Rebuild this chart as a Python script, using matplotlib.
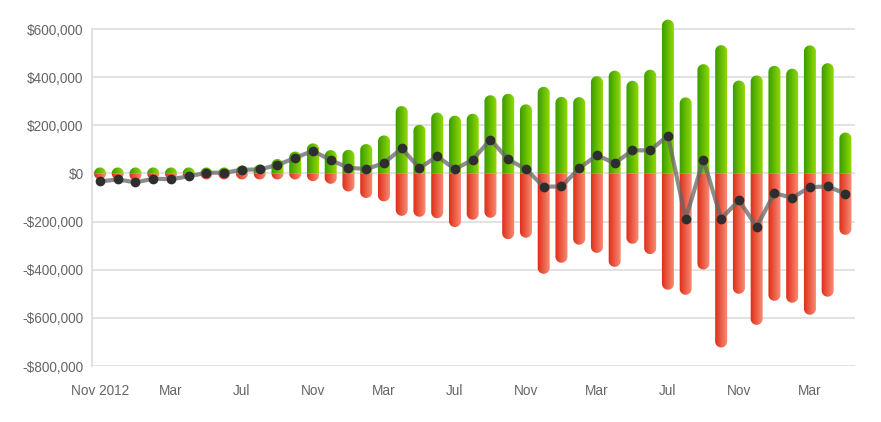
import numpy as np
import pandas as pd
import matplotlib
matplotlib.use("Agg")
import matplotlib.pyplot as plt
from matplotlib.path import Path
from matplotlib.patches import PathPatch
from matplotlib.ticker import FuncFormatter
from matplotlib.colors import to_rgb

plt.rcParams['font.family'] = ['Liberation Sans', 'DejaVu Sans']

# monthly figures in thousands of dollars, Nov 2012 .. May 2016
months = pd.date_range('2012-11-01', periods=43, freq='MS')
income = [24, 24, 24, 24, 24, 24, 24, 24, 33, 37, 60, 91, 125, 97, 98, 122, 158,
          280, 202, 253, 240, 248, 325, 331, 287, 360, 318, 317, 404, 427, 385,
          431, 639, 316, 454, 533, 386, 407, 447, 435, 532, 458, 170]
expenses = [-25, -25, -30, -25, -25, -25, -25, -25, -25, -25, -25, -25, -32, -43,
            -75, -102, -116, -176, -180, -186, -223, -192, -184, -273, -267, -417,
            -371, -296, -330, -388, -292, -335, -483, -504, -399, -723, -500, -629,
            -529, -537, -587, -512, -255]
net = [-33, -25, -37, -22, -24, -12, 3, 3, 15, 17, 35, 65, 94, 55, 24, 18, 43,
       104, 22, 71, 18, 57, 141, 58, 18, -55, -54, 21, 76, 42, 96, 96, 157, -188,
       57, -188, -112, -221, -82, -101, -57, -54, -84]
yticks = [600, 400, 200, 0, -200, -400, -600, -800]

income = np.array(income) * 1000
expenses = np.array(expenses) * 1000
net = np.array(net) * 1000
x = np.arange(len(months))
xlabels = [('Nov 2012' if i == 0 else m.strftime('%b')) for i, m in enumerate(months)]

W, H = 881, 422
fig = plt.figure(figsize=(W / 100, H / 100), dpi=100)
left, right, bottom, top = 92, 855, 366, 17
ax = fig.add_axes([left / W, 1 - bottom / H, (right - left) / W, (bottom - top) / H])
xlim = (-0.45, 42.54)
ylim = (-800000, 650000)
ax.set_xlim(xlim)
ax.set_ylim(ylim)

px_x = (right - left) / (xlim[1] - xlim[0])
px_y = (bottom - top) / (ylim[1] - ylim[0])
rx = 6.0 / px_x
ry = 6.0 / px_y


def bar_path(xc, v):
    s = 1 if v >= 0 else -1
    h = max(abs(v), ry)
    th = np.linspace(np.pi, 0, 24)
    pts = [(xc - rx, 0), (xc - rx, s * (h - ry))]
    pts += [(xc + rx * np.cos(t), s * (h - ry + ry * np.sin(t))) for t in th]
    pts += [(xc + rx, 0), (xc - rx, 0)]
    return Path(pts, closed=True)


def gradient_image(c_left, c_right):
    n = 4000
    xs = np.linspace(xlim[0], xlim[1], n)
    ph = xs - np.round(xs)
    t = np.clip((ph + rx) / (2 * rx), 0, 1)[None, :, None]
    a, b = np.array(to_rgb(c_left)), np.array(to_rgb(c_right))
    return np.repeat(a + (b - a) * t, 2, axis=0)


for vals, cl, cr in [(income, '#3a9c00', '#90da04'), (expenses, '#de2e17', '#f98b74')]:
    comp = Path.make_compound_path(*[bar_path(xi, v) for xi, v in zip(x, vals)])
    patch = PathPatch(comp, transform=ax.transData, facecolor='none', edgecolor='none')
    im = ax.imshow(gradient_image(cl, cr), extent=[xlim[0], xlim[1], ylim[0], ylim[1]],
                   aspect='auto', origin='lower', interpolation='bilinear', zorder=2)
    im.set_clip_path(patch)

ax.plot(x, net, color='#666666', alpha=0.75, lw=3, zorder=3, solid_joinstyle='round')
ax.plot(x, net, 'o', color='#2e2e2e', ms=6, zorder=4)

ax.set_yticks([v * 1000 for v in yticks])
ax.yaxis.set_major_formatter(FuncFormatter(
    lambda v, p: ('-$' if v < 0 else '$') + f'{abs(int(v)):,}'))
ax.set_xticks(x[::4])
ax.set_xticklabels(xlabels[::4])
ax.grid(axis='y', color='#dedede', lw=1.2, zorder=0)
ax.tick_params(length=0, labelsize=9.8, colors='#666666')
ax.tick_params(axis='y', pad=6)
ax.tick_params(axis='x', pad=13)
for s in ['top', 'right', 'bottom']:
    ax.spines[s].set_visible(False)
ax.spines['left'].set_color('#dcdcdc')
ax.spines['left'].set_linewidth(1.2)
ax.spines['left'].set_bounds(-800000, 600000)
ax.set_axisbelow(True)

fig.savefig('out.png', dpi=100)
